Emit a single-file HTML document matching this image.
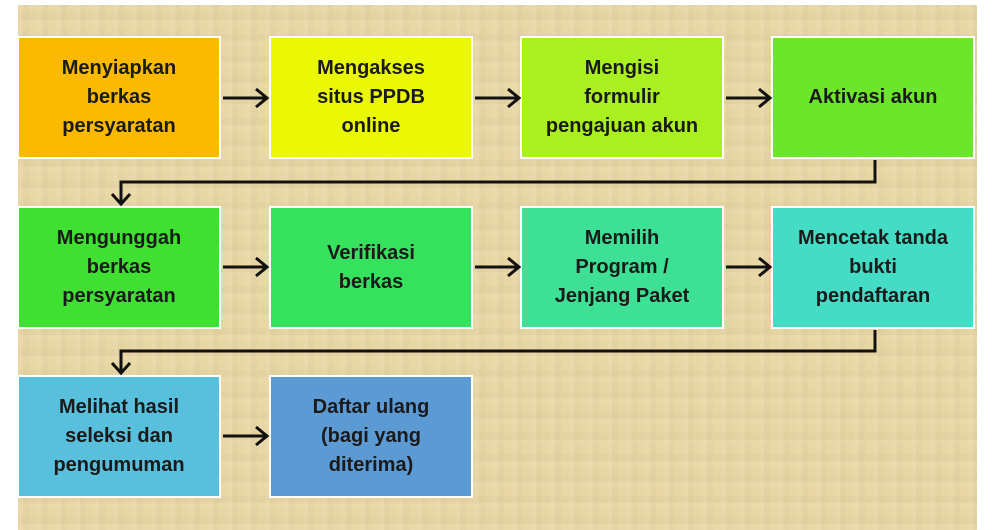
<!DOCTYPE html>
<html><head><meta charset="utf-8"><style>
html,body{margin:0;padding:0;width:1000px;height:530px;background:#fff;overflow:hidden}
#bg{position:absolute;left:18px;top:5px;width:959px;height:525px;background:#e8d6a4;
background-image:repeating-linear-gradient(90deg,rgba(255,255,255,.05) 0 5px,rgba(0,0,0,.015) 5px 11px,rgba(255,255,255,0) 11px 19px),repeating-linear-gradient(0deg,rgba(255,255,255,.04) 0 6px,rgba(0,0,0,.015) 6px 13px,rgba(255,255,255,0) 13px 21px);}
.b{position:absolute;width:200px;height:119px;border:2px solid #fff;display:flex;align-items:center;justify-content:center;text-align:center;font-family:"Liberation Sans",sans-serif;font-weight:bold;font-size:20px;line-height:29px;color:#1a1a1a;box-sizing:content-box}
svg{position:absolute;left:0;top:0}
</style></head><body>
<div id="bg"></div>
<div class="b" style="left:17px;top:36px;background:#fbb900">Menyiapkan<br>berkas<br>persyaratan</div>
<div class="b" style="left:269px;top:36px;background:#eaf806">Mengakses<br>situs PPDB<br>online</div>
<div class="b" style="left:520px;top:36px;background:#aaef20">Mengisi<br>formulir<br>pengajuan akun</div>
<div class="b" style="left:771px;top:36px;background:#6ce62a">Aktivasi akun</div>
<div class="b" style="left:17px;top:206px;background:#3fe032">Mengunggah<br>berkas<br>persyaratan</div>
<div class="b" style="left:269px;top:206px;background:#36e15e">Verifikasi<br>berkas</div>
<div class="b" style="left:520px;top:206px;background:#3ee096">Memilih<br>Program /<br>Jenjang Paket</div>
<div class="b" style="left:771px;top:206px;background:#45dcc6">Mencetak tanda<br>bukti<br>pendaftaran</div>
<div class="b" style="left:17px;top:375px;background:#58c0dc">Melihat hasil<br>seleksi dan<br>pengumuman</div>
<div class="b" style="left:269px;top:375px;background:#5c9ad4">Daftar ulang<br>(bagi yang<br>diterima)</div>
<svg width="1000" height="530" fill="none" stroke="#111" stroke-width="3">
<g id="a"><path d="M223 98H266M256 89L267 98L256 107"/></g>
<use href="#a" x="252"/><use href="#a" x="503"/>
<use href="#a" y="169"/><use href="#a" x="252" y="169"/><use href="#a" x="503" y="169"/>
<use href="#a" y="338"/>
<path d="M875 160V182H121V203M112 194L121 204L130 194"/>
<path d="M875 330V351H121V372M112 363L121 373L130 363"/>
</svg>
</body></html>
